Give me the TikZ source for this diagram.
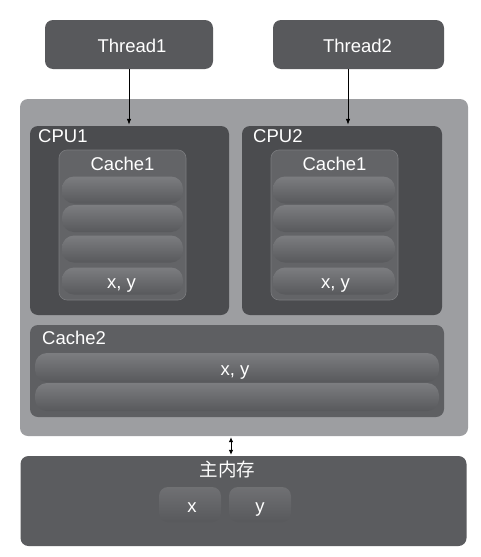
\documentclass[tikz,border=0pt]{standalone}
\usepackage{fontspec}
\setmainfont{Liberation Sans}
\newfontfamily\cjk{Noto Sans CJK SC}
\usetikzlibrary{arrows.meta}
\definecolor{outerc}{HTML}{9D9EA1}
\definecolor{cpuc}{HTML}{4B4C4F}
\definecolor{threadc}{HTML}{58595C}
\definecolor{cacheonec}{HTML}{636467}
\definecolor{cachetwoc}{HTML}{5E5F62}
\definecolor{memc}{HTML}{5B5C5F}
\definecolor{rowtop}{HTML}{7C7D80}
\definecolor{rowmid}{HTML}{6B6C6F}
\definecolor{rowbot}{HTML}{58595C}
\tikzset{
  box/.style={rectangle, rounded corners=8pt, inner sep=0pt, font=\fontsize{18.5}{20}\selectfont, text=white},
  threadbox/.style={box, fill=threadc},
  outerbox/.style={box, fill=outerc},
  cpubox/.style={box, fill=cpuc},
  cacheonebox/.style={box, fill=cacheonec, draw=cacheonec!85!white, line width=0.6pt},
  cachetwobox/.style={box, fill=cachetwoc},
  membox/.style={box, fill=memc},
  rowbox/.style={box, rounded corners=12pt, top color=rowtop, middle color=rowmid, bottom color=rowbot},
  valbox/.style={box, rounded corners=9pt, top color=rowtop!90!black, bottom color=rowbot},
  lbl/.style={inner sep=0pt, font=\fontsize{18.5}{20}\selectfont, text=white},
  arr/.style={-{Latex[length=6pt,width=4.5pt]}, line width=0.8pt, black},
  darr/.style={{Latex[length=5pt,width=4.5pt]}-{Latex[length=5pt,width=4.5pt]}, line width=0.8pt, black}
}
\begin{document}
\begin{tikzpicture}[x=1pt,y=-1pt]
\useasboundingbox (0,0) rectangle (481,557);
\fill[white] (0,0) rectangle (481,557);

% threads
\node[threadbox, minimum width=168pt, minimum height=49pt] (t1) at (129,44.5) {};
\node[lbl, anchor=base] (t1l) at (132,52) {Thread1};
\node[threadbox, minimum width=171pt, minimum height=49pt] (t2) at (358.5,44.5) {};
\node[lbl, anchor=base] (t2l) at (357.5,52) {Thread2};

% outer
\node[outerbox, minimum width=448pt, minimum height=337pt] (outer) at (244,267.5) {};

% CPU1
\node[cpubox, minimum width=199pt, minimum height=189pt] (cpu1) at (129.5,220.5) {};
\node[lbl, anchor=base west] (cpu1l) at (38,142) {CPU1};
\node[cacheonebox, minimum width=127pt, minimum height=150pt] (ca1) at (122.5,225) {};
\node[lbl, anchor=base] (ca1l) at (122.5,170) {Cache1};
\node[rowbox, minimum width=121pt, minimum height=27pt] (a1) at (122.5,190) {};
\node[rowbox, minimum width=121pt, minimum height=27pt] (a2) at (122.5,218.5) {};
\node[rowbox, minimum width=121pt, minimum height=27pt] (a3) at (122.5,249) {};
\node[rowbox, minimum width=121pt, minimum height=27pt] (a4) at (122.5,281) {};
\node[lbl, anchor=base] (a4l) at (121.5,288) {x, y};

% CPU2
\node[cpubox, minimum width=200pt, minimum height=189pt] (cpu2) at (342,220.5) {};
\node[lbl, anchor=base west] (cpu2l) at (253,142) {CPU2};
\node[cacheonebox, minimum width=127pt, minimum height=150pt] (ca2) at (334.5,225) {};
\node[lbl, anchor=base] (ca2l) at (334.5,170) {Cache1};
\node[rowbox, minimum width=122pt, minimum height=27pt] (b1) at (334,190) {};
\node[rowbox, minimum width=122pt, minimum height=27pt] (b2) at (334,218.5) {};
\node[rowbox, minimum width=122pt, minimum height=27pt] (b3) at (334,249) {};
\node[rowbox, minimum width=122pt, minimum height=27pt] (b4) at (334,281) {};
\node[lbl, anchor=base] (b4l) at (335.5,288) {x, y};

% Cache2
\node[cachetwobox, minimum width=414pt, minimum height=92pt] (ca3) at (237,371) {};
\node[lbl, anchor=base west] (ca3l) at (42,344) {Cache2};
\node[rowbox, minimum width=404pt, minimum height=29pt] (c1) at (237,367.5) {};
\node[lbl, anchor=base] (c1l) at (235,375) {x, y};
\node[rowbox, minimum width=404pt, minimum height=28pt] (c2) at (237,397) {};

% memory
\node[membox, minimum width=446pt, minimum height=90pt] (mem) at (243.5,501) {};
\node[lbl, anchor=base] (meml) at (227.5,476) {\cjk 主内存};
\node[valbox, minimum width=62pt, minimum height=35pt] (mx) at (190,504.5) {};
\node[lbl, anchor=base] (mxl) at (192,512) {x};
\node[valbox, minimum width=62pt, minimum height=35pt] (my) at (260,504.5) {};
\node[lbl, anchor=base] (myl) at (260,512) {y};

% connectors
\coordinate (ax1) at (129,0);
\coordinate (ax2) at (348,0);
\coordinate (ax3) at (231,0);
\draw[arr] (t1.south -| ax1) -- ([yshift=1pt]cpu1.north -| ax1);
\draw[arr] (t2.south -| ax2) -- ([yshift=1pt]cpu2.north -| ax2);
\draw[darr] ([yshift=-1pt]outer.south -| ax3) -- ([yshift=1pt]mem.north -| ax3);
\end{tikzpicture}
\end{document}
